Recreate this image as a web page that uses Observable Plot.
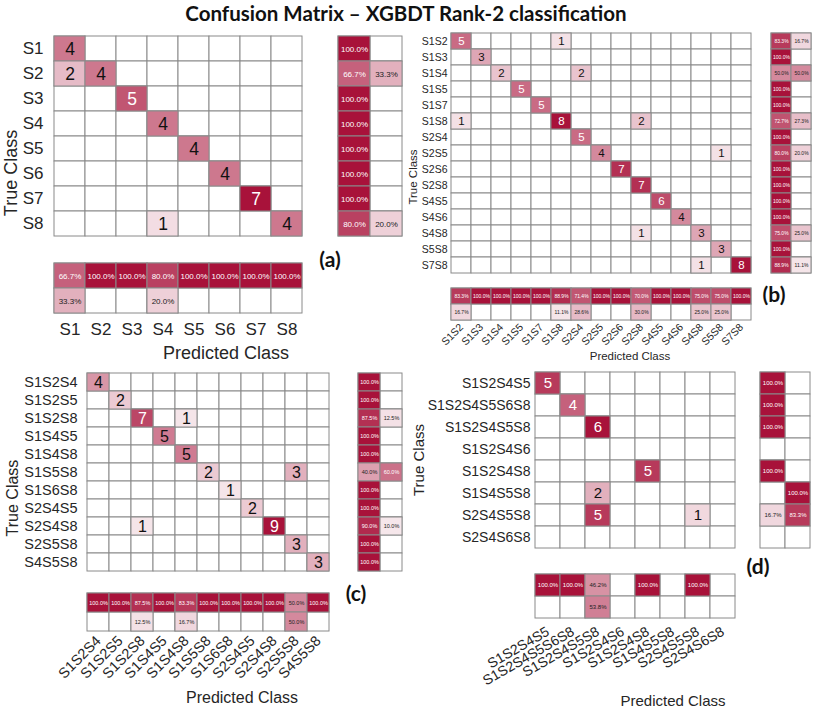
<!DOCTYPE html>
<html><head><meta charset="utf-8">
<script src="https://cdn.jsdelivr.net/npm/d3@7"></script>
<script src="https://cdn.jsdelivr.net/npm/@observablehq/plot@0.6"></script>
<style>
body{margin:0;background:#fff;}
#root{position:relative;width:813px;height:708px;overflow:hidden;background:#fff;font-family:"Liberation Sans",Arial,sans-serif;}
#root svg{position:absolute;overflow:visible;}
.lbl{position:absolute;white-space:nowrap;color:#262626;line-height:1;}
.tag{font-family:Lato,"Open Sans",sans-serif;font-weight:700;color:#111;}
</style></head><body><div id="root"></div><script>
// ---------- Panel (a) ----------
const classesA = ["S1","S2","S3","S4","S5","S6","S7","S8"];
const cellsA = [ // [true, predicted, count]
  ["S1","S1",4],
  ["S2","S1",2],["S2","S2",4],
  ["S3","S3",5],
  ["S4","S4",4],
  ["S5","S5",4],
  ["S6","S6",4],
  ["S7","S7",7],
  ["S8","S4",1],["S8","S8",4]];
const rowCorrectA = [100,66.7,100,100,100,100,100,80];
const rowWrongA   = [null,33.3,null,null,null,null,null,20];
const colCorrectA = [66.7,100,100,80,100,100,100,100];
const colWrongA   = [33.3,null,null,20,null,null,null,null];

// ---------- Panel (b) ----------
const classesB = ["S1S2","S1S3","S1S4","S1S5","S1S7","S1S8","S2S4","S2S5","S2S6","S2S8","S4S5","S4S6","S4S8","S5S8","S7S8"];
const cellsB = [
  ["S1S2","S1S2",5],["S1S2","S1S8",1],
  ["S1S3","S1S3",3],
  ["S1S4","S1S4",2],["S1S4","S2S4",2],
  ["S1S5","S1S5",5],
  ["S1S7","S1S7",5],
  ["S1S8","S1S2",1],["S1S8","S1S8",8],["S1S8","S2S8",2],
  ["S2S4","S2S4",5],
  ["S2S5","S2S5",4],["S2S5","S5S8",1],
  ["S2S6","S2S6",7],
  ["S2S8","S2S8",7],
  ["S4S5","S4S5",6],
  ["S4S6","S4S6",4],
  ["S4S8","S2S8",1],["S4S8","S4S8",3],
  ["S5S8","S5S8",3],
  ["S7S8","S4S8",1],["S7S8","S7S8",8]];
const rowCorrectB = [83.3,100,50,100,100,72.7,100,80,100,100,100,100,75,100,88.9];
const rowWrongB   = [16.7,null,50,null,null,27.3,null,20,null,null,null,null,25,null,11.1];
const colCorrectB = [83.3,100,100,100,100,88.9,71.4,100,100,70,100,100,75,75,100];
const colWrongB   = [16.7,null,null,null,null,11.1,28.6,null,null,30,null,null,25,25,null];

// ---------- Panel (c) ----------
const classesC = ["S1S2S4","S1S2S5","S1S2S8","S1S4S5","S1S4S8","S1S5S8","S1S6S8","S2S4S5","S2S4S8","S2S5S8","S4S5S8"];
const cellsC = [
  ["S1S2S4","S1S2S4",4],
  ["S1S2S5","S1S2S5",2],
  ["S1S2S8","S1S2S8",7],["S1S2S8","S1S4S8",1],
  ["S1S4S5","S1S4S5",5],
  ["S1S4S8","S1S4S8",5],
  ["S1S5S8","S1S5S8",2],["S1S5S8","S2S5S8",3],
  ["S1S6S8","S1S6S8",1],
  ["S2S4S5","S2S4S5",2],
  ["S2S4S8","S1S2S8",1],["S2S4S8","S2S4S8",9],
  ["S2S5S8","S2S5S8",3],
  ["S4S5S8","S4S5S8",3]];
const rowCorrectC = [100,100,87.5,100,100,40,100,100,90,100,100];
const rowWrongC   = [null,null,12.5,null,null,60,null,null,10,null,null];
const colCorrectC = [100,100,87.5,100,83.3,100,100,100,100,50,100];
const colWrongC   = [null,null,12.5,null,16.7,null,null,null,null,50,null];

// ---------- Panel (d) ----------
const classesD = ["S1S2S4S5","S1S2S4S5S6S8","S1S2S4S5S8","S1S2S4S6","S1S2S4S8","S1S4S5S8","S2S4S5S8","S2S4S6S8"];
const cellsD = [
  ["S1S2S4S5","S1S2S4S5",5],
  ["S1S2S4S5S6S8","S1S2S4S5S6S8",4],
  ["S1S2S4S5S8","S1S2S4S5S8",6],
  ["S1S2S4S8","S1S2S4S8",5],
  ["S1S4S5S8","S1S2S4S5S8",2],
  ["S2S4S5S8","S1S2S4S5S8",5],["S2S4S5S8","S2S4S5S8",1]];
const rowCorrectD = [100,100,100,null,100,null,16.7,null];
const rowWrongD   = [null,null,null,null,null,100,83.3,null];
const colCorrectD = [100,100,46.2,null,100,null,100,null];
const colWrongD   = [null,null,53.8,null,null,null,null,null];

const title = "Confusion Matrix – XGBDT Rank-2 classification";

// ---------- drawing ----------
const DARK = "#a8123a";
const GRID = "#8a8a8a";
const FONT = "'Liberation Sans', Arial, Helvetica, sans-serif";
const root = document.getElementById("root");

function place(el, left, top) {
  el.style.position = "absolute";
  el.style.left = left + "px";
  el.style.top = top + "px";
  root.appendChild(el);
}

function mainMatrix(classes, cells, rect, o) {
  const [x0, y0, x1, y1] = rect;
  const max = d3.max(cells, d => d[2]);
  const all = classes.flatMap(t => classes.map(p => ({t, p})));
  const data = cells.map(([t, p, v]) => ({t, p, v}));
  const thr = 0.6;
  const plot = Plot.plot({
    width: x1 - x0 + o.ml + 1, height: y1 - y0 + 2,
    marginLeft: o.ml, marginRight: 1, marginTop: 1, marginBottom: 1,
    style: {fontFamily: FONT, fontSize: o.tickFont + "px", color: "#262626", background: "transparent"},
    x: {domain: classes, padding: 0, axis: null},
    y: {domain: classes, padding: 0, label: null, tickSize: 0, tickPadding: o.pad},
    color: {type: "linear", domain: [0, max], range: ["#ffffff", DARK], interpolate: "rgb"},
    marks: [
      Plot.cell(all, {x: "p", y: "t", fill: "white", stroke: GRID}),
      Plot.cell(data, {x: "p", y: "t", fill: "v", stroke: GRID}),
      Plot.text(data.filter(d => d.v / max > thr), {x: "p", y: "t", text: "v", fill: "white", fontSize: o.numFont}),
      Plot.text(data.filter(d => d.v / max <= thr), {x: "p", y: "t", text: "v", fill: "#111", fontSize: o.numFont})
    ]
  });
  place(plot, x0 - o.ml, y0 - 1);
}

const pct = d => d.v.toFixed(1) + "%";

function summaryMarks(all, data, xk, yk, fs) {
  return [
    Plot.cell(all, {x: xk, y: yk, fill: "white", stroke: GRID}),
    Plot.cell(data, {x: xk, y: yk, fill: "v", stroke: GRID}),
    Plot.text(data.filter(d => d.v > 55), {x: xk, y: yk, text: pct, fill: "white", fontSize: fs}),
    Plot.text(data.filter(d => d.v <= 55), {x: xk, y: yk, text: pct, fill: "#222", fontSize: fs})
  ];
}

function rowSummary(classes, correct, wrong, rect, fs) {
  const [x0, y0, x1, y1] = rect;
  const kinds = ["correct", "wrong"];
  const all = classes.flatMap(t => kinds.map(k => ({t, k})));
  const data = classes.flatMap((t, i) => [{t, k: "correct", v: correct[i]}, {t, k: "wrong", v: wrong[i]}]).filter(d => d.v != null);
  const plot = Plot.plot({
    width: x1 - x0 + 2, height: y1 - y0 + 2,
    marginLeft: 1, marginRight: 1, marginTop: 1, marginBottom: 1,
    style: {fontFamily: FONT, background: "transparent"},
    x: {domain: kinds, padding: 0, axis: null},
    y: {domain: classes, padding: 0, axis: null},
    color: {type: "linear", domain: [0, 100], range: ["#ffffff", DARK], interpolate: "rgb"},
    marks: summaryMarks(all, data, "k", "t", fs)
  });
  place(plot, x0 - 1, y0 - 1);
}

function colSummary(classes, correct, wrong, rect, o) {
  const [x0, y0, x1, y1] = rect;
  const kinds = ["correct", "wrong"];
  const all = classes.flatMap(p => kinds.map(k => ({p, k})));
  const data = classes.flatMap((p, i) => [{p, k: "correct", v: correct[i]}, {p, k: "wrong", v: wrong[i]}]).filter(d => d.v != null);
  const plot = Plot.plot({
    width: x1 - x0 + o.ml + 1, height: y1 - y0 + o.mb + 1,
    marginLeft: o.ml, marginRight: 1, marginTop: 1, marginBottom: o.mb,
    style: {fontFamily: FONT, fontSize: o.tickFont + "px", color: "#262626", background: "transparent"},
    x: {domain: classes, padding: 0, label: null, tickSize: 0, tickPadding: o.pad, tickRotate: o.rotate || 0},
    y: {domain: kinds, padding: 0, axis: null},
    color: {type: "linear", domain: [0, 100], range: ["#ffffff", DARK], interpolate: "rgb"},
    marks: summaryMarks(all, data, "p", "k", o.fs)
  });
  place(plot, x0 - o.ml, y0 - 1);
}

function label(text, cx, cy, size, rotate, cls) {
  const div = document.createElement("div");
  div.className = "lbl" + (cls ? " " + cls : "");
  div.textContent = text;
  div.style.left = cx + "px";
  div.style.top = cy + "px";
  div.style.fontSize = size + "px";
  div.style.transform = "translate(-50%,-50%)" + (rotate ? " rotate(" + rotate + "deg)" : "");
  root.appendChild(div);
}

// Panel (a)
mainMatrix(classesA, cellsA, [50, 34, 305, 237], {ml: 50, pad: 7, tickFont: 17, numFont: 17.5});
rowSummary(classesA, rowCorrectA, rowWrongA, [338, 34, 402, 237], 8);
colSummary(classesA, colCorrectA, colWrongA, [50, 262, 305, 313], {ml: 1, mb: 32, pad: 9, tickFont: 17, fs: 8});
label("True Class", 11, 173, 18, -90);
label("Predicted Class", 226, 353, 18);
label("(a)", 330, 258, 21, 0, "tag");

// Panel (b)
mainMatrix(classesB, cellsB, [451, 33, 751, 273], {ml: 50, pad: 4, tickFont: 10.5, numFont: 11.5});
rowSummary(classesB, rowCorrectB, rowWrongB, [770, 33, 811, 273], 5);
colSummary(classesB, colCorrectB, colWrongB, [451, 288, 751, 320], {ml: 25, mb: 34, pad: 5, tickFont: 10.5, fs: 5, rotate: -45});
label("True Class", 414, 177, 11.5, -90);
label("Predicted Class", 630, 357, 11.5);
label("(b)", 774, 293, 21, 0, "tag");

// Panel (c)
mainMatrix(classesC, cellsC, [82, 369, 333, 575], {ml: 82, pad: 5, tickFont: 14.5, numFont: 16});
rowSummary(classesC, rowCorrectC, rowWrongC, [357, 369, 402, 575], 5.5);
colSummary(classesC, colCorrectC, colWrongC, [82, 593, 333, 631], {ml: 50, mb: 62, pad: 7, tickFont: 14.5, fs: 5.5, rotate: -45});
label("True Class", 13, 498, 16, -90);
label("Predicted Class", 242, 698, 16);
label("(c)", 356, 592, 21, 0, "tag");

// Panel (d)
mainMatrix(classesD, cellsD, [535, 369, 735, 550], {ml: 110, pad: 5, tickFont: 14, numFont: 15});
rowSummary(classesD, rowCorrectD, rowWrongD, [760, 369, 810, 550], 6);
colSummary(classesD, colCorrectD, colWrongD, [535, 573, 735, 618], {ml: 100, mb: 72, pad: 12, tickFont: 14, fs: 6, rotate: -30});
label("True Class", 418, 460, 15, -90);
label("Predicted Class", 673, 700, 15);
label("(d)", 758, 565, 21, 0, "tag");

label(title, 406, 13, 20.5, 0, "tag");
</script></body></html>
